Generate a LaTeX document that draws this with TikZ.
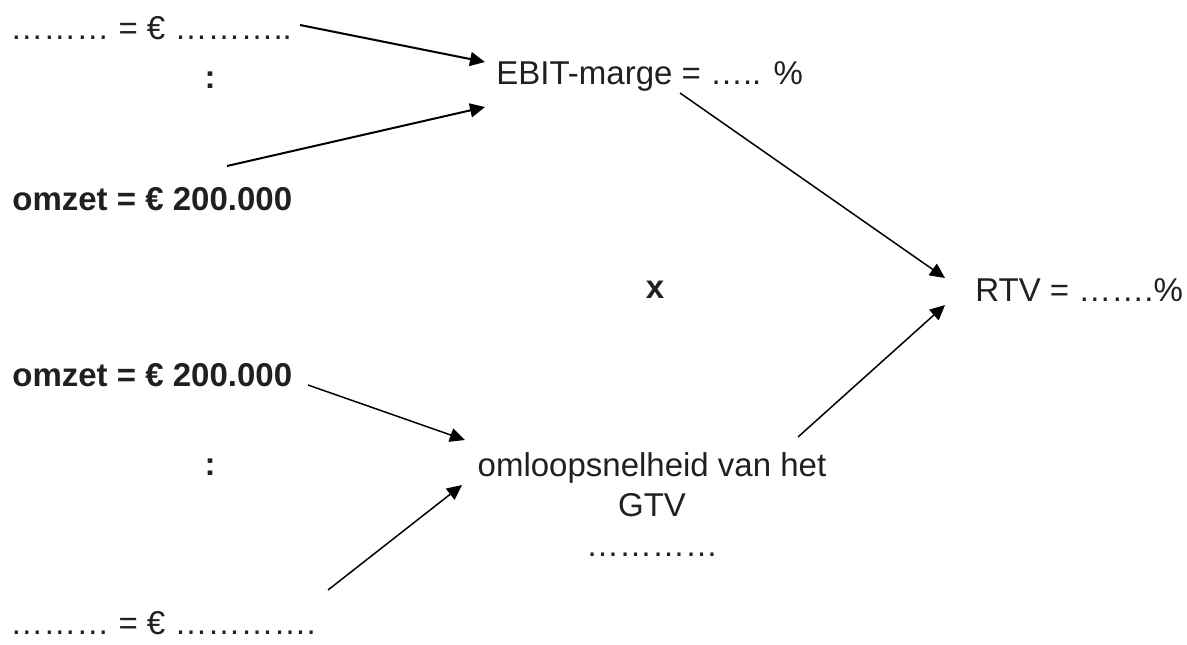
\documentclass[tikz,border=0pt]{standalone}
\usepackage{fontspec}
\setmainfont{Liberation Sans}
\usetikzlibrary{arrows.meta}
\definecolor{tekst}{HTML}{231F20}
\tikzset{
  term/.style = {inner sep=0pt, anchor=base west, text=tekst,
    font=\fontsize{16.5}{20}\selectfont},
  vet/.style = {term, font=\fontsize{16.5}{20}\selectfont\bfseries},
  pijl/.style = {-{Triangle[length=7.5pt,width=7pt]}, line width=0.75pt},
}

\begin{document}
\begin{tikzpicture}[x=0.5pt,y=-0.5pt]
  \useasboundingbox (0,0) rectangle (1187,644);

  % linkerkolom
  \node[term] (boven)  at (10,39)  {……… = € ………..};
  \node[vet, anchor=center] (deel1) at (210,80) {:};
  \node[vet]  (omzet1) at (12,210) {omzet = € 200.000};
  \node[vet]  (omzet2) at (12,386) {omzet = € 200.000};
  \node[vet, anchor=center] (deel2) at (210,467) {:};
  \node[term] (onder)  at (10,634) {……… = € ………….};

  % midden en rechts
  \node[term] (ebit) at (496,84) {EBIT-marge = ….. \%};
  \node[vet, anchor=center] (maal) at (655,290) {x};
  \node[term] (rtv) at (975,301) {RTV = …….\%};
  \node[term, anchor=north, align=center] (oms) at (652,452)
    {omloopsnelheid van het\\GTV\\…………};

  \coordinate (boven-uit)  at (300,25);
  \coordinate (ebit-in1)   at (485,62);
  \coordinate (omzet1-uit) at (227,166);
  \coordinate (ebit-in2)   at (485,107);
  \coordinate (ebit-uit)   at (680,93);
  \coordinate (rtv-in1)    at (945,278);
  \coordinate (oms-uit)    at (798,437);
  \coordinate (rtv-in2)    at (945,305);
  \coordinate (omzet2-uit) at (308,385);
  \coordinate (oms-in1)    at (465,440);
  \coordinate (onder-uit)  at (328,590);
  \coordinate (oms-in2)    at (462,485);

  \draw[pijl, line width=1pt] (boven-uit) -- (ebit-in1);
  \draw[pijl, line width=1pt] (omzet1-uit) -- (ebit-in2);
  \draw[pijl] (ebit-uit) -- (rtv-in1);
  \draw[pijl] (oms-uit) -- (rtv-in2);
  \draw[pijl] (omzet2-uit) -- (oms-in1);
  \draw[pijl] (onder-uit) -- (oms-in2);
\end{tikzpicture}
\end{document}
